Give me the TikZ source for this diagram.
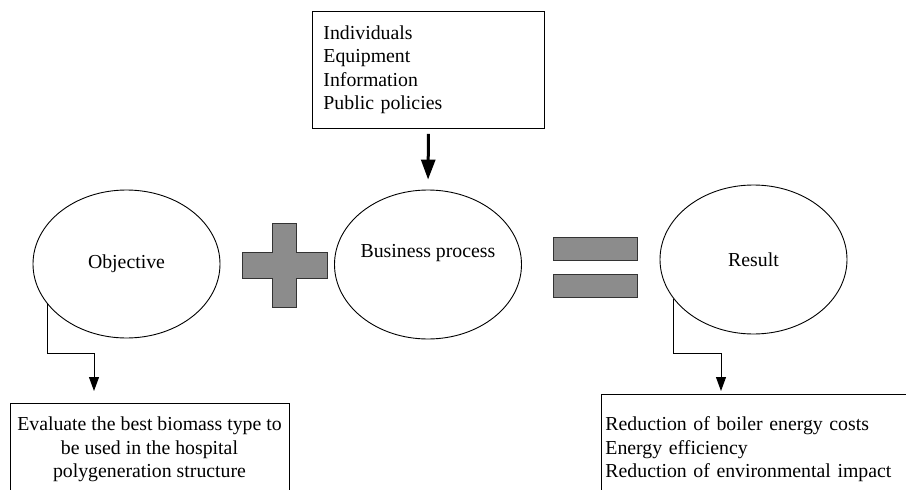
\documentclass[tikz,border=0pt]{standalone}
\usepackage{fontspec}
\setmainfont{Liberation Serif}
\usetikzlibrary{shapes.geometric,arrows.meta}
\definecolor{shapegray}{RGB}{140,140,140}
\begin{document}
\begin{tikzpicture}[x=1pt,y=-1pt,
  txt/.style={font=\fontsize{19.8}{23.5}\selectfont},
  ell/.style={ellipse, draw, line width=0.9pt, minimum width=187pt, minimum height=149pt, inner sep=0pt, txt},
  box/.style={draw, line width=0.9pt, txt},
  conn/.style={line width=0.9pt, -{Triangle[length=14pt,width=10pt]}},
  bigarrow/.style={line width=3pt, -{Triangle[length=20pt,width=14pt]}},
  sym/.style={fill=shapegray, draw=black!80, line width=0.8pt}]
\useasboundingbox (0,0) rectangle (906,490);
\clip (0,0) rectangle (906,490);

% input box
\node[box, anchor=north west, inner xsep=11pt, inner ysep=14.3pt, text width=210pt, align=left]
  (inputs) at (312,11) {Individuals\\Equipment\\Information\\Public policies};

% ellipses
\node[ell, minimum height=148pt] (obj) at (126.5,264) {Objective};
\node[ell] (bp) at (428,264.5) {};
\node[txt] (bpt) at (428,253) {Business process};
\node[ell] (res) at (753.5,259.5) {Result};

% plus sign
\draw[sym] (272,223) -- (296,223) -- (296,252) -- (327,252) -- (327,278) -- (296,278)
  -- (296,307) -- (272,307) -- (272,278) -- (242,278) -- (242,252) -- (272,252) -- cycle;

% equals sign
\draw[sym] (553,237) rectangle (637,260);
\draw[sym] (553,274) rectangle (637,297);

% bottom boxes
\node[box, anchor=north, minimum width=279pt, inner ysep=13.5pt, align=center]
  (obox) at (149.5,403) {Evaluate the best biomass type to\\be used in the hospital\\polygeneration structure};
\node[box, anchor=north west, inner xsep=4pt, inner ysep=22.5pt, text width=312pt, align=left]
  (rbox) at (601,394) {Reduction of boiler energy costs\\Energy efficiency\\Reduction of environmental impact};

% connectors
\draw[bigarrow, shorten <=5pt, shorten >=10pt] (inputs.south) -- (bp.north);

\coordinate (lk) at (94,353);
\coordinate (ltip) at (94,391);
\draw[conn] (obj.207) |- (lk) -- (ltip);

\coordinate (rk) at (721,353);
\coordinate (rtip) at (721,391);
\draw[conn] (res.206) |- (rk) -- (rtip);
\end{tikzpicture}
\end{document}
